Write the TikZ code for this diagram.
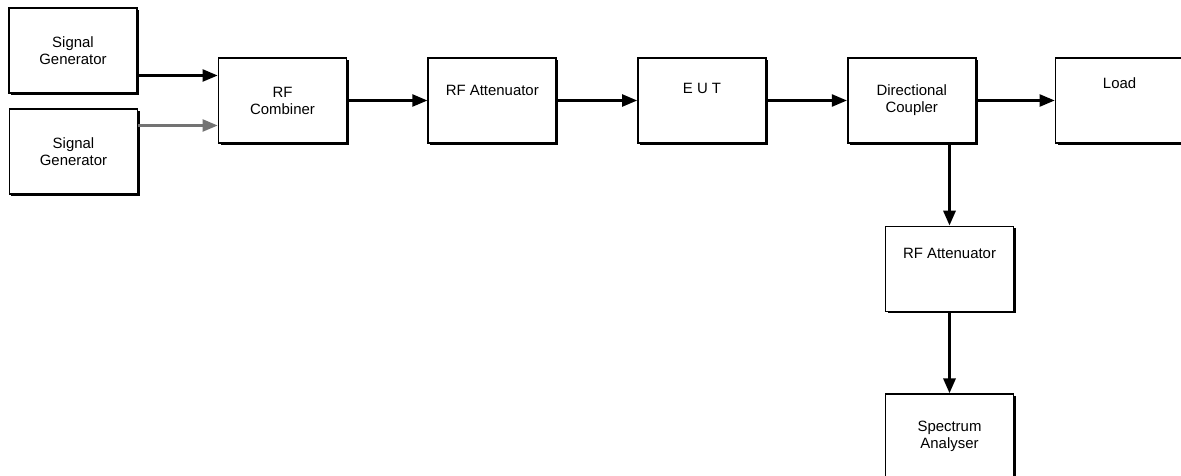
\documentclass[tikz,border=0pt]{standalone}
\usepackage{fontspec}
\setmainfont{Liberation Sans}
\usepackage{tikz}
\usetikzlibrary{arrows.meta,positioning,shadows}

\begin{document}
\begin{tikzpicture}[x=0.2mm,y=-0.2mm,
  box/.style={draw=black,fill=white,line width=1pt,minimum width=25.6mm,
    minimum height=17mm,inner sep=0pt,align=center,
    font=\fontsize{8.5}{9.7}\selectfont,
    general shadow={fill=black,shadow xshift=0.4mm,shadow yshift=-0.4mm}},
  lift/.style={text depth=#1},
  flow/.style={-{Triangle[length=3mm,width=2.4mm]},draw=black,line width=1.3pt},
  down/.style={flow,line width=1.8pt}
]
\clip (0,0) rectangle (1181,476);
\fill[white] (0,0) rectangle (1181,476);
\node[box] (g1) at (73,50.5) {Signal\\Generator};
\node[box] (g2) at (73.5,151.5) {Signal\\Generator};
\node[box] (c) at (282.5,100.5) {RF\\Combiner};
\node[box,right=16mm of c,lift=4mm] (a) {RF Attenuator};
\node[box,right=16mm of a,lift=5mm] (e) {E U T};
\node[box,right=16mm of e] (dc) {Directional\\Coupler};
\node[box,right=15.6mm of dc,lift=6.8mm] (l) {Load};
\node[box,lift=6.4mm] (a2) at (949.5,269) {RF Attenuator};
\node[box,below=16.2mm of a2] (s) {Spectrum\\Analyser};
\coordinate (c1) at ([yshift=5mm]c.west);
\coordinate (c2) at ([yshift=-5mm]c.west);
\draw[flow] (g1.east |- c1)--(c1);
\draw[flow,draw=black!55] (g2.east |- c2)--(c2);
\draw[flow] (c)--(a);
\draw[flow] (a)--(e);
\draw[flow] (e)--(dc);
\draw[flow] (dc)--(l);
\draw[down] (a2.north |- dc.south)--(a2.north);
\draw[down] (a2)--(s);
\end{tikzpicture}
\end{document}
